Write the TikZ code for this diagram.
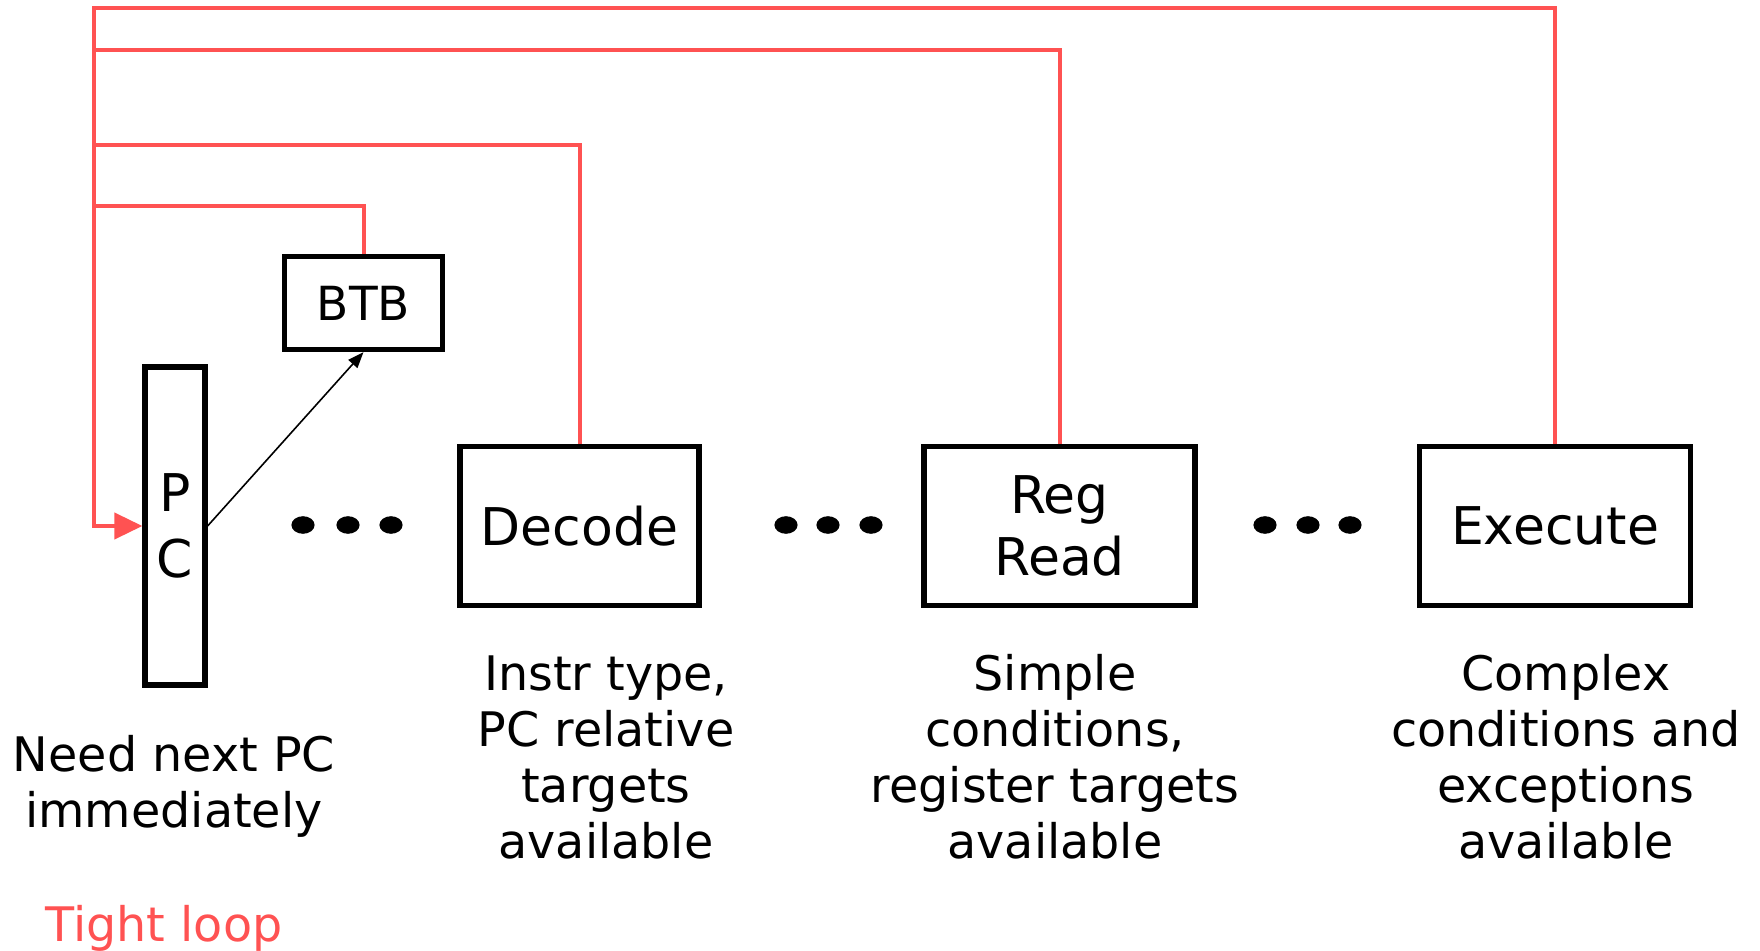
\documentclass[tikz,border=0pt]{standalone}
\usepackage{fontspec}
\setmainfont{DejaVu Sans}
\usetikzlibrary{arrows.meta}
\definecolor{loopred}{RGB}{255,82,82}
\begin{document}
\begin{tikzpicture}[x=0.5pt,y=-0.5pt,
  box/.style={draw=black,line width=2.6pt,inner sep=0pt,align=center,
    font=\fontsize{26pt}{31pt}\selectfont},
  lbl/.style={align=center,inner sep=0pt,font=\fontsize{23.8pt}{28pt}\selectfont},
  fb/.style={draw=loopred,line width=2pt}
]
\useasboundingbox (0,0) rectangle (1760,951);
% boxes
\node[box,minimum width=30pt,minimum height=159pt] (pc) at (175,526) {P\\[2pt]C};
\node[box,minimum width=79pt,minimum height=46.5pt,font=\fontsize{23.5pt}{28pt}\selectfont] (btb) at (363.5,303) {BTB};
\node[box,minimum width=119.5pt,minimum height=79.5pt] (dec) at (579.5,526) {Decode};
\node[box,minimum width=135.5pt,minimum height=79.5pt] (rr) at (1059.5,526) {Reg\\Read};
\node[box,minimum width=135.5pt,minimum height=79.5pt] (exe) at (1555,526) {Execute};
% dots
\foreach \x in {303,348,391,786,828,871,1265,1308,1350}{
  \fill (\x,525) ellipse (5.8pt and 4.4pt);
}
% labels
\node[lbl] (l1) at (174,786) {Need next PC\\immediately};
\node[lbl] (l2) at (606,757) {Instr type,\\PC relative\\targets\\available};
\node[lbl] (l3) at (1055,757) {Simple\\conditions,\\register targets\\available};
\node[lbl] (l4) at (1566,757) {Complex\\conditions and\\exceptions\\available};
\node[lbl,text=loopred] (tl) at (164,928) {Tight loop};
% feedback lines
\coordinate (v0) at (94,8);
\coordinate (v1) at (94,50.5);
\coordinate (v2) at (94,145);
\coordinate (v3) at (94,206.5);
\draw[fb,-{Triangle[length=14pt,width=13pt]}] (exe.north) |- (v0) |- (pc.west);
\draw[fb] (rr.north) |- (v1);
\draw[fb] (dec.north) |- (v2);
\draw[fb] (btb.north) |- (v3);
% pc to btb
\draw[line width=0.8pt,-{Triangle[length=8pt,width=6pt]}] (pc.east) -- (btb.south);
\end{tikzpicture}
\end{document}
